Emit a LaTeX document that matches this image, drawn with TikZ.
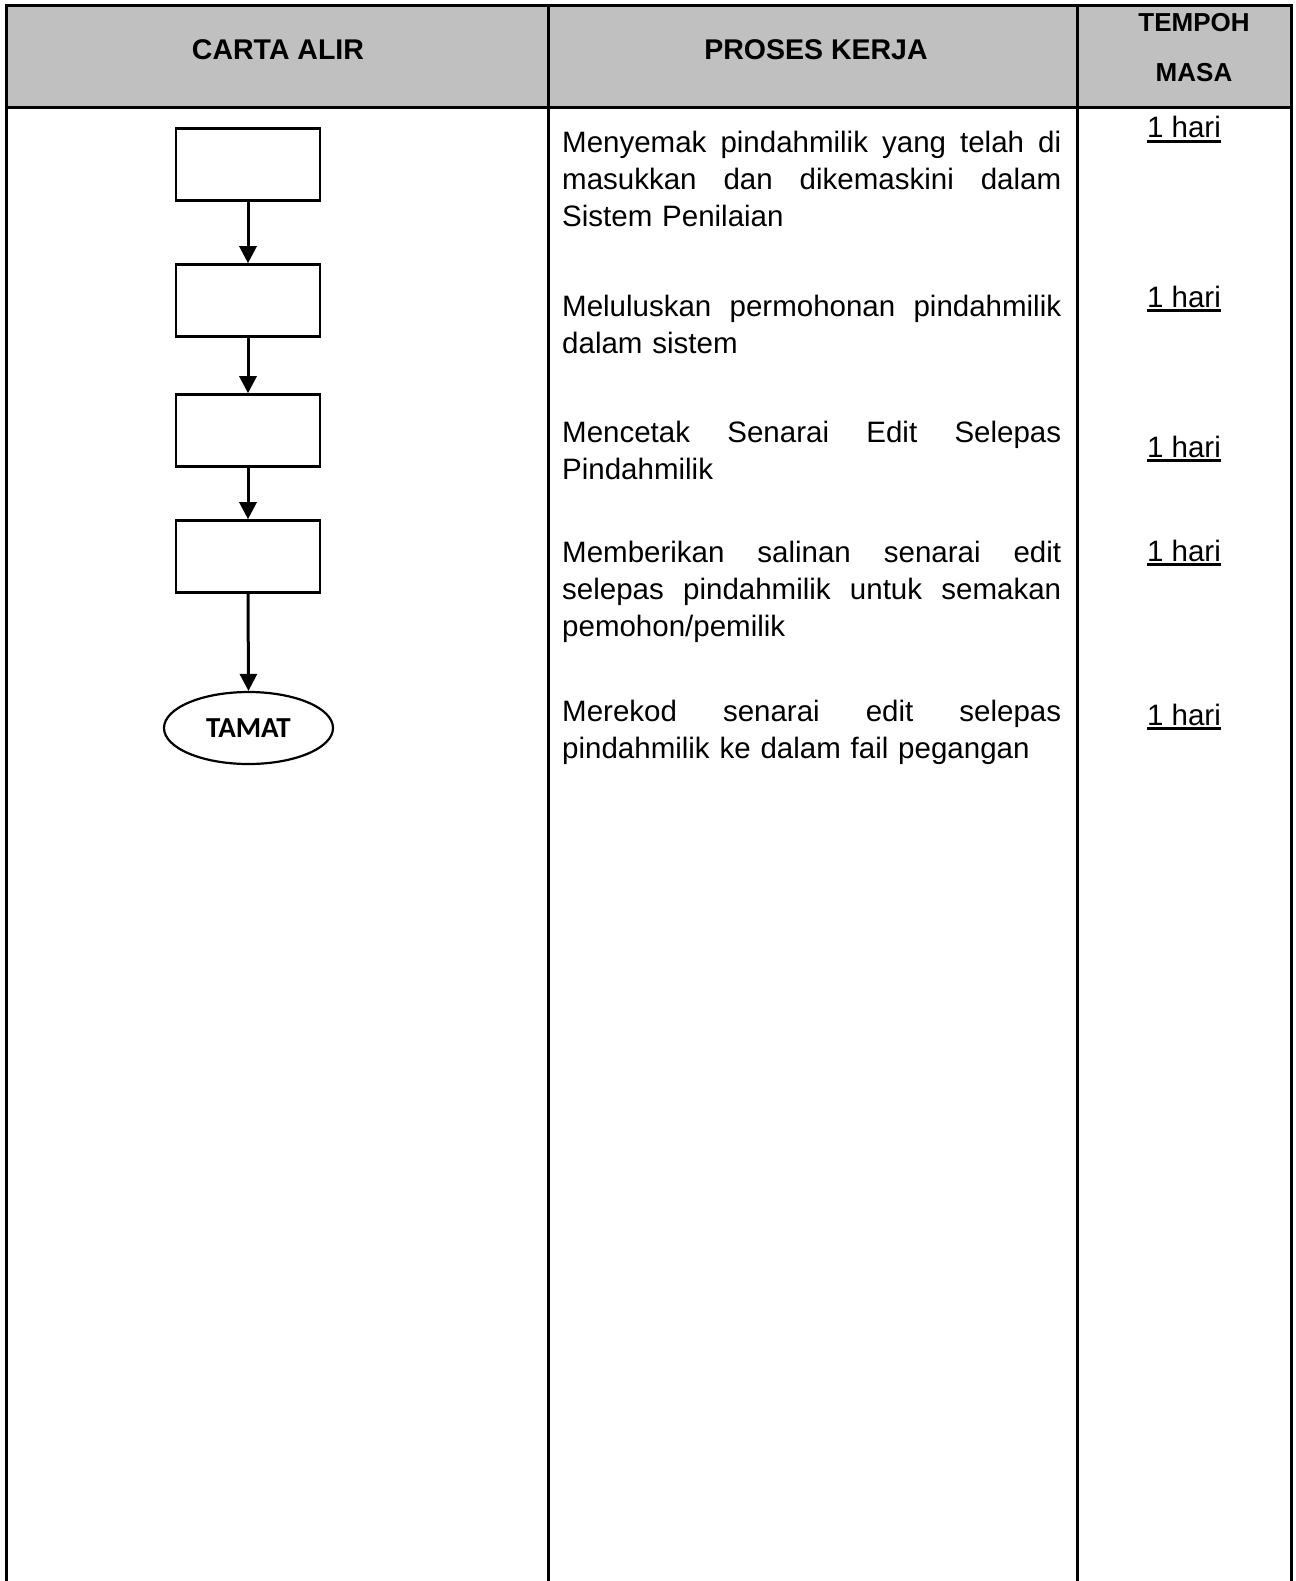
\documentclass[tikz,border=0pt]{standalone}
\usepackage{fontspec}
\setmainfont{Liberation Sans}
\newfontfamily\calib{Carlito}
\usetikzlibrary{arrows.meta,shapes.geometric}
\definecolor{hdrgray}{HTML}{C0C0C0}
\newcommand\jl[1]{\leavevmode\hbox to 499pt{#1}}
\tikzset{
  tbl/.style={line width=3pt, black},
  hdr/.style={anchor=base, inner sep=0pt, font=\bfseries\fontsize{28.5}{34}\selectfont},
  hdrs/.style={anchor=base, inner sep=0pt, font=\bfseries\fontsize{26}{30}\selectfont},
  para/.style={anchor=base west, inner sep=0pt, text width=499pt, align=left, font=\fontsize{29.5}{37}\selectfont},
  hari/.style={anchor=base, inner sep=0pt, font=\fontsize{29.5}{37}\selectfont},
  uline/.style={line width=2.4pt},
  stepbox/.style={draw, line width=2.6pt, minimum width=144pt, minimum height=72pt, inner sep=0pt},
  endnode/.style={draw, ellipse, line width=2.2pt, minimum width=169pt, minimum height=72pt, inner sep=0pt, font=\calib\bfseries\fontsize{29}{32}\selectfont},
  flow/.style={line width=3pt, -{Triangle[width=17pt,length=17pt]}}
}
\begin{document}
\begin{tikzpicture}[x=1pt,y=-1pt]
\useasboundingbox (0,0) rectangle (1295,1581);
\fill[white] (0,0) rectangle (1295,1581);
% header
\fill[hdrgray] (6,6) rectangle (1291,107.5);
\draw[tbl] (6,1600) -- (6,6) -- (1291,6) -- (1291,1600);
\draw[tbl] (6,107.5) -- (1291,107.5);
\draw[tbl] (548,6) -- (548,1600);
\draw[tbl] (1077,6) -- (1077,1600);
\node[hdr] (hA) at (278,60) {CARTA ALIR};
\node[hdr] (hB) at (816,60) {PROSES KERJA};
\node[hdrs] (hC) at (1194,32) {TEMPOH};
\node[hdrs] (hD) at (1194,82) {MASA};
% flowchart
\node[stepbox] (b1) at (248,164.5) {};
\node[stepbox] (b2) at (248,300.5) {};
\node[stepbox] (b3) at (248,430.5) {};
\node[stepbox] (b4) at (248,556.5) {};
\node[endnode] (e) at (248.5,728) {TAMAT};
\draw[flow] (b1.south) -- (b2.north);
\draw[flow] (b2.south) -- (b3.north);
\draw[flow] (b3.south) -- (b4.north);
\draw[flow] (b4.south) -- (e.north);
% process texts
\node[para] (p1) at (562,153) {\jl{Menyemak\hfill pindahmilik\hfill yang\hfill telah\hfill di}\\\jl{masukkan\hfill dan\hfill dikemaskini\hfill dalam}\\Sistem Penilaian};
\node[para] (p2) at (562,316) {\jl{Meluluskan\hfill permohonan\hfill pindahmilik}\\dalam sistem};
\node[para] (p3) at (562,442) {\jl{Mencetak\hfill Senarai\hfill Edit\hfill Selepas}\\Pindahmilik};
\node[para] (p4) at (562,562) {\jl{Memberikan\hfill salinan\hfill senarai\hfill edit}\\\jl{selepas\hfill pindahmilik\hfill untuk\hfill semakan}\\pemohon/pemilik};
\node[para] (p5) at (562,721) {\jl{Merekod\hfill senarai\hfill edit\hfill selepas}\\pindahmilik ke dalam fail pegangan};
% durations
\node[hari] (t1) at (1184,138) {1 hari};
\node[hari] (t2) at (1184,307) {1 hari};
\node[hari] (t3) at (1184,457) {1 hari};
\node[hari] (t4) at (1184,561) {1 hari};
\node[hari] (t5) at (1184,725) {1 hari};
\foreach \t in {t1,t2,t3,t4,t5}
  \draw[uline] ([yshift=-3.5pt]\t.base west) -- ([yshift=-3.5pt]\t.base east);
\end{tikzpicture}
\end{document}
